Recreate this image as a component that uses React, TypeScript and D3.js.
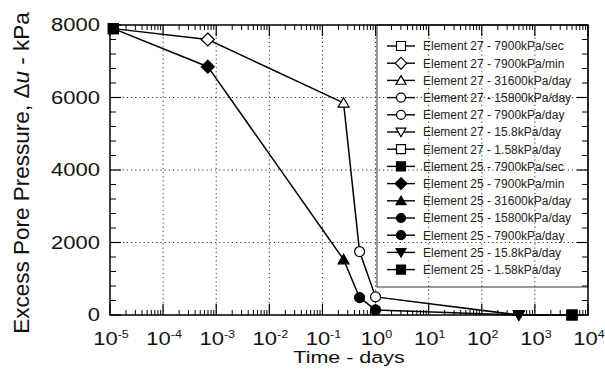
import React from 'react'
import * as d3 from 'd3'

// loading rates (one legend entry per element per rate)
const rates = ['7900kPa/sec', '7900kPa/min', '31600kPa/day', '15800kPa/day', '7900kPa/day', '15.8kPa/day', '1.58kPa/day']
const timeDays = [1.157e-5, 6.94e-4, 0.25, 0.5, 1, 500, 5000]
const element27 = [7900, 7600, 5850, 1750, 500, 0, 0]
const element25 = [7900, 6850, 1530, 480, 140, 0, 0]
const shapes = ['square', 'diamond', 'triangle', 'circle', 'circle', 'triangleDown', 'square']
const yTicks = [0, 2000, 4000, 6000, 8000]
const xExponents = [-5, -4, -3, -2, -1, 0, 1, 2, 3, 4]

const FONT = '"Liberation Sans", Arial, Helvetica, sans-serif'

function markerPath(shape: string, s: number) {
  const h = s / 2
  switch (shape) {
    case 'square':
      return `M${-h},${-h}H${h}V${h}H${-h}Z`
    case 'diamond':
      return `M0,${-h * 1.3}L${h * 1.3},0L0,${h * 1.3}L${-h * 1.3},0Z`
    case 'triangle':
      return `M0,${-h * 1.05}L${h * 1.1},${h * 0.85}L${-h * 1.1},${h * 0.85}Z`
    case 'triangleDown':
      return `M0,${h * 1.05}L${h * 1.1},${-h * 0.85}L${-h * 1.1},${-h * 0.85}Z`
    default:
      return d3.symbol(d3.symbolCircle, Math.PI * h * h)() as string
  }
}

function Marker({ shape, x, y, filled, s = 10 }: { shape: string; x: number; y: number; filled: boolean; s?: number }) {
  return (
    <path
      d={markerPath(shape, s)}
      transform={`translate(${x},${y})`}
      fill={filled ? '#000' : '#fff'}
      stroke="#000"
      strokeWidth={1.2}
    />
  )
}

export default function App() {
  const width = 605
  const height = 376
  const left = 110, right = 588, top = 25, bottom = 315

  const x = d3.scaleLog().domain([1e-5, 1e4]).range([left, right])
  const y = d3.scaleLinear().domain([0, 8000]).range([bottom, top])

  const line = d3.line<number>()
    .x((_, i) => x(timeDays[i]))
    .y(d => y(d))

  const minorX: number[] = []
  for (let e = -5; e < 4; e++) {
    for (let k = 2; k <= 9; k++) minorX.push(k * Math.pow(10, e))
  }
  const minorY = d3.range(0, 8001, 400).filter(v => v % 2000 !== 0)

  const series = [
    { name: 'Element 27', values: element27, filled: false },
    { name: 'Element 25', values: element25, filled: true },
  ]

  const legendX = 377
  const legendY0 = 46
  const legendStep = 17.2
  const legendItems = series.flatMap(s => rates.map((r, i) => ({ label: `${s.name} - ${r}`, shape: shapes[i], filled: s.filled })))

  return (
    <svg width={width} height={height} style={{ position: 'absolute', left: 0, top: 0, background: '#fff' }} fontFamily={FONT}>
      <rect x={0} y={0} width={width} height={height} fill="#fff" />

      {/* grid */}
      {xExponents.slice(1, -1).map(e => (
        <line key={'gx' + e} x1={x(Math.pow(10, e))} x2={x(Math.pow(10, e))} y1={top} y2={bottom}
          stroke="#333" strokeWidth={1} strokeDasharray="1.2,3" />
      ))}
      {yTicks.slice(1, -1).map(v => (
        <line key={'gy' + v} x1={left} x2={right} y1={y(v)} y2={y(v)}
          stroke="#333" strokeWidth={1} strokeDasharray="1.2,3" />
      ))}

      {/* ticks */}
      {minorX.map((v, i) => (
        <g key={'mx' + i} stroke="#000" strokeWidth={1}>
          <line x1={x(v)} x2={x(v)} y1={bottom} y2={bottom - 5} />
          <line x1={x(v)} x2={x(v)} y1={top} y2={top + 5} />
        </g>
      ))}
      {xExponents.map(e => (
        <g key={'MX' + e} stroke="#000" strokeWidth={1.2}>
          <line x1={x(Math.pow(10, e))} x2={x(Math.pow(10, e))} y1={bottom} y2={bottom - 11} />
          <line x1={x(Math.pow(10, e))} x2={x(Math.pow(10, e))} y1={top} y2={top + 11} />
        </g>
      ))}
      {minorY.map(v => (
        <g key={'my' + v} stroke="#000" strokeWidth={1}>
          <line x1={left} x2={left + 6} y1={y(v)} y2={y(v)} />
          <line x1={right} x2={right - 6} y1={y(v)} y2={y(v)} />
        </g>
      ))}
      {yTicks.map(v => (
        <g key={'MY' + v} stroke="#000" strokeWidth={1.2}>
          <line x1={left} x2={left + 11} y1={y(v)} y2={y(v)} />
          <line x1={right} x2={right - 11} y1={y(v)} y2={y(v)} />
        </g>
      ))}

      {/* frame */}
      <rect x={left} y={top} width={right - left} height={bottom - top} fill="none" stroke="#000" strokeWidth={1.5} />

      {/* legend */}
      <rect x={legendX} y={top} width={right - legendX} height={287 - top} fill="none" stroke="#000" strokeWidth={0.8} />
      {legendItems.map((it, i) => {
        const ly = legendY0 + i * legendStep
        return (
          <g key={'lg' + i}>
            <line x1={387} x2={415} y1={ly} y2={ly} stroke="#000" strokeWidth={1.4} />
            <Marker shape={it.shape} x={401} y={ly} filled={it.filled} s={9} />
            <text x={423} y={ly + 4.3} fontSize={12} fill="#222">{it.label}</text>
          </g>
        )
      })}

      {/* data */}
      {series.map(s => (
        <g key={s.name}>
          <path d={line(s.values) as string} fill="none" stroke="#000" strokeWidth={1.5} />
          {s.values.map((v, i) => (
            <Marker key={i} shape={shapes[i]} x={x(timeDays[i])} y={y(v)} filled={s.filled} s={10} />
          ))}
        </g>
      ))}

      {/* y tick labels */}
      {yTicks.map(v => (
        <text key={'yl' + v} transform={`translate(100,${y(v) + 6.3}) scale(1,0.8)`} textAnchor="end" fontSize={22} fill="#111">
          {v}
        </text>
      ))}

      {/* x tick labels */}
      {xExponents.map(e => (
        <text key={'xl' + e} transform={`translate(${x(Math.pow(10, e)) + 1},345) scale(1,0.8)`} textAnchor="middle" fontSize={22} fill="#111">
          10<tspan fontSize={12.5} dy={-9}>{e}</tspan>
        </text>
      ))}

      {/* axis titles */}
      <text transform="translate(349,363) scale(1,0.8)" textAnchor="middle" fontSize={21.5} fill="#111">Time - days</text>
      <text transform="translate(29,173) rotate(-90)" textAnchor="middle" fontSize={22.5} fill="#111">
        Excess Pore Pressure, Δ<tspan fontStyle="italic">u</tspan> - kPa
      </text>
    </svg>
  )
}
